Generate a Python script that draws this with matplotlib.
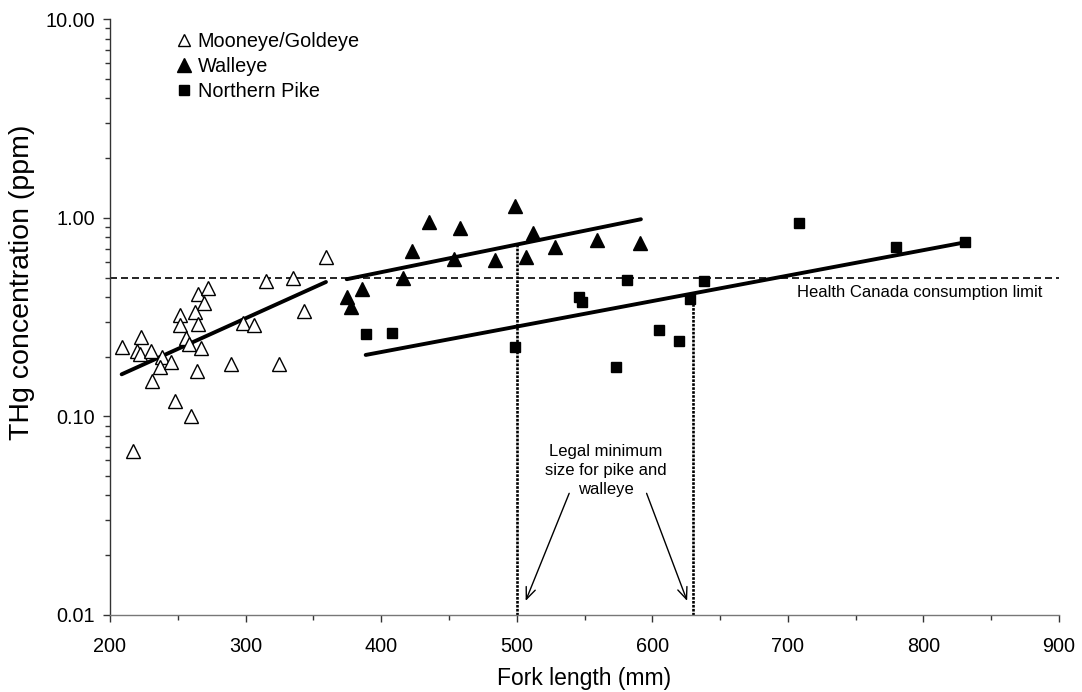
import matplotlib
matplotlib.use("Agg")
import matplotlib.pyplot as plt
from matplotlib.ticker import FixedLocator, FuncFormatter, MultipleLocator
import numpy as np

plt.rcParams['font.family'] = ['Liberation Sans', 'DejaVu Sans']

# ---------------- data ----------------
mooneye_len = [209, 223, 220, 222, 230, 238, 237, 231, 245, 248, 260, 217, 252, 252, 256, 258,
               265, 272, 269, 263, 265, 267, 264, 289, 298, 306, 315, 335, 325, 343, 359]
mooneye_thg = [0.224, 0.251, 0.214, 0.206, 0.214, 0.199, 0.178, 0.150, 0.188, 0.120, 0.100, 0.067,
               0.326, 0.290, 0.248, 0.232, 0.413, 0.442, 0.373, 0.337, 0.293, 0.221, 0.170, 0.183,
               0.295, 0.289, 0.483, 0.497, 0.184, 0.340, 0.638]

walleye_len = [375, 378, 386, 416, 423, 435, 454, 458, 484, 499, 512, 507, 528, 559, 591]
walleye_thg = [0.398, 0.355, 0.438, 0.497, 0.684, 0.957, 0.621, 0.887, 0.614, 1.148, 0.836,
               0.634, 0.716, 0.774, 0.750]

pike_len = [389, 408, 499, 546, 548, 573, 581.5, 605, 620, 628, 638, 708, 780, 831]
pike_thg = [0.260, 0.263, 0.225, 0.401, 0.376, 0.177, 0.487, 0.273, 0.241, 0.389, 0.481,
            0.939, 0.711, 0.754]

# trend lines (end points)
mooneye_fit_len = [208.6, 359.3]
mooneye_fit_thg = [0.163, 0.4755]
walleye_fit_len = [374.6, 591.6]
walleye_fit_thg = [0.491, 0.984]
pike_fit_len = [388.6, 829.3]
pike_fit_thg = [0.204, 0.750]

health_limit = 0.5
legal_min_len = [500, 630]
legal_min_top = [0.734, 0.416]

x_ticks = [200, 300, 400, 500, 600, 700, 800, 900]
y_ticks = [0.01, 0.1, 1, 10]

# ---------------- figure ----------------
fig = plt.figure(figsize=(10.82, 6.92), dpi=100)
ax = fig.add_axes([110 / 1082, (692 - 615) / 692, 949 / 1082, (615 - 19.3) / 692])

ax.set_yscale('log')
ax.set_xlim(200, 900)
ax.set_ylim(0.01, 10)

# health canada limit
hl, = ax.plot([200, 900], [health_limit, health_limit], color='black', lw=1.2)
hl.set_dashes([4.2, 2.4])

# legal minimum lines
for xl, yt in zip(legal_min_len, legal_min_top):
    ax.plot([xl, xl], [0.01, yt], color='black', lw=1.9, linestyle=(0, (1.0, 0.5)))

# fit lines
for fx, fy in [(mooneye_fit_len, mooneye_fit_thg), (walleye_fit_len, walleye_fit_thg),
               (pike_fit_len, pike_fit_thg)]:
    ax.plot(fx, fy, color='black', lw=2.8, solid_capstyle='round')

# points
ax.plot(mooneye_len, mooneye_thg, linestyle='none', marker='^', markersize=9.5,
        markerfacecolor='white', markeredgecolor='black', markeredgewidth=1.0,
        label='Mooneye/Goldeye')
ax.plot(walleye_len, walleye_thg, linestyle='none', marker='^', markersize=10,
        color='black', label='Walleye')
ax.plot(pike_len, pike_thg, linestyle='none', marker='s', markersize=7,
        color='black', label='Northern Pike')

# annotations
ax.text(706.4, 0.420, 'Health Canada consumption limit', fontsize=12, ha='left', va='center')
ax.text(565.8, 0.0535, 'Legal minimum\nsize for pike and\nwalleye', fontsize=12,
        ha='center', va='center', linespacing=1.33)
arrow_props = dict(arrowstyle='->,head_length=0.6,head_width=0.25', lw=1.0, color='black',
                   shrinkA=0, shrinkB=0, mutation_scale=14)
ax.annotate('', xy=(506.6, 0.01178), xytext=(538.7, 0.0410), arrowprops=arrow_props)
ax.annotate('', xy=(625.7, 0.01178), xytext=(595.8, 0.0410), arrowprops=arrow_props)

# axes styling
for s in ['top', 'right']:
    ax.spines[s].set_visible(False)
ax.spines['left'].set_color('#333333')
ax.spines['bottom'].set_color('#777777')
ax.spines['left'].set_linewidth(1.0)
ax.spines['bottom'].set_linewidth(1.0)

ax.xaxis.set_major_locator(FixedLocator(x_ticks))
ax.xaxis.set_minor_locator(MultipleLocator(50))
ax.yaxis.set_major_locator(FixedLocator(y_ticks))
ax.yaxis.set_major_formatter(FuncFormatter(lambda v, p: f'{v:.2f}'))
ax.tick_params(axis='both', which='major', direction='out', length=5, width=1.0,
               labelsize=14.3, color='#333333')
ax.tick_params(axis='both', which='minor', direction='out', length=3.6, width=1.0,
               color='#333333')
ax.tick_params(axis='x', which='major', pad=11)
ax.tick_params(axis='y', which='major', pad=6)

ax.set_xlabel('Fork length (mm)', fontsize=16.5, va='center')
ax.xaxis.set_label_coords(0.5, -0.106)
ax.set_ylabel('THg concentration (ppm)', fontsize=20.5, va='center')
ax.yaxis.set_label_coords(-0.093, 0.559)

ax.legend(loc='upper left', bbox_to_anchor=(0.0695, 0.979), frameon=False, fontsize=14.3,
          handlelength=0.8, handletextpad=0.3, labelspacing=0.3, borderpad=0,
          borderaxespad=0, markerscale=0.95)

fig.savefig('out.png', dpi=100)
